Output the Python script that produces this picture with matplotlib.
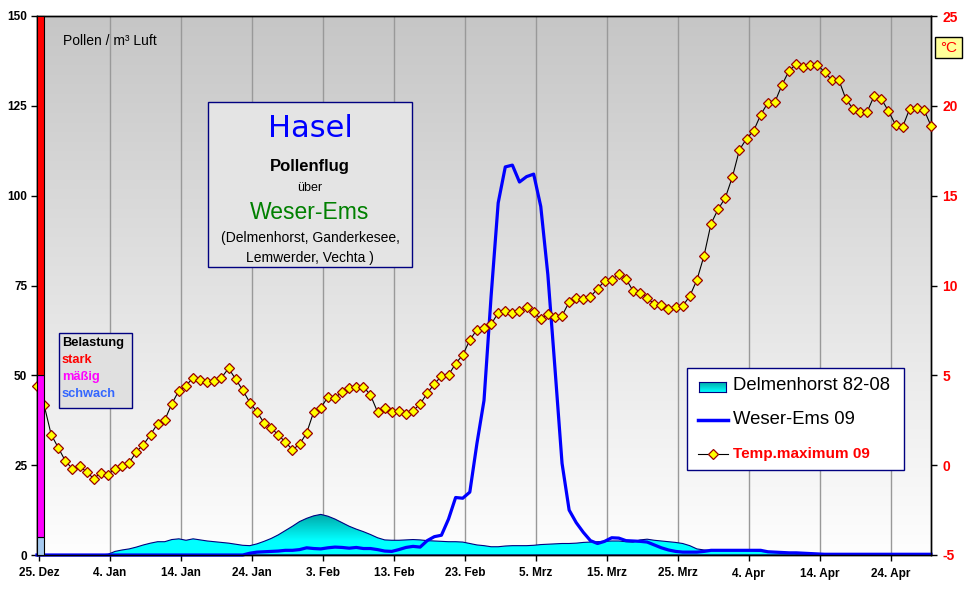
import numpy as np
import matplotlib
matplotlib.use("Agg")
import matplotlib.pyplot as plt
from matplotlib.colors import LinearSegmentedColormap
from matplotlib.patches import Rectangle
from matplotlib.lines import Line2D

plt.rcParams["font.family"] = ["Liberation Sans", "DejaVu Sans"]

# --- data -------------------------------------------------------------
tick_labels = ["25. Dez", "4. Jan", "14. Jan", "24. Jan", "3. Feb", "13. Feb",
               "23. Feb", "5. Mrz", "15. Mrz", "25. Mrz", "4. Apr", "14. Apr",
               "24. Apr"]

# Temp.maximum 09 (degC), one value per day from 25. Dez
temp_max = [
    4.4, 3.35, 1.7, 0.97, 0.23, -0.2, -0.05, -0.38, -0.75, -0.42,
    -0.53, -0.2, -0.03, 0.14, 0.75, 1.14, 1.7, 2.31, 2.5, 3.42,
    4.14, 4.42, 4.87, 4.74, 4.64, 4.68, 4.87, 5.39, 4.79, 4.17,
    3.48, 2.97, 2.35, 2.08, 1.68, 1.29, 0.86, 1.16, 1.79, 2.97,
    3.2, 3.79, 3.74, 4.09, 4.28, 4.37, 4.37, 3.9, 2.96, 3.2,
    2.96, 3.03, 2.85, 3.03, 3.4, 4.01, 4.52, 4.96, 5.02, 5.65,
    6.13, 6.96, 7.54, 7.63, 7.84, 8.48, 8.6, 8.47, 8.56, 8.82,
    8.52, 8.13, 8.39, 8.26, 8.32, 9.08, 9.32, 9.25, 9.37, 9.82,
    10.25, 10.3, 10.64, 10.37, 9.71, 9.6, 9.3, 8.97, 8.91, 8.71,
    8.82, 8.86, 9.41, 10.3, 11.64, 13.44, 14.25, 14.87, 16.03, 17.55,
    18.17, 18.61, 19.5, 20.17, 20.21, 21.17, 21.95, 22.32, 22.17, 22.25,
    22.28, 21.88, 21.45, 21.45, 20.38, 19.84, 19.65, 19.67, 20.56, 20.39,
    19.71, 18.95, 18.83, 19.84, 19.88, 19.79, 18.89,
]

# Weser-Ems 09 (Pollen / m3 Luft)
weser_ems = [0.0] * 30 + [
    0.5, 0.8, 0.9, 1.0, 1.1, 1.3, 1.3, 1.5, 2.0, 1.8,
    1.7, 2.0, 2.2, 2.1, 1.9, 2.1, 1.8, 1.8, 1.5, 1.1,
    1.0, 1.5, 2.1, 2.4, 2.2, 4.0, 5.1, 5.5, 10.0, 16.0,
    15.8, 17.5, 31.0, 43.0, 72.0, 98.0, 108.0, 108.5, 103.8, 105.3,
    106.0, 97.0, 78.0, 52.0, 25.5, 12.5, 9.0, 6.3, 4.0, 3.2,
    3.8, 4.8, 4.7, 4.0, 3.9, 3.8, 3.6, 2.8, 2.0, 1.4,
    1.0, 0.8, 0.8, 0.8, 1.0, 1.3, 1.3, 1.3, 1.3, 1.3,
    1.3, 1.3, 1.3, 0.9, 0.8, 0.7, 0.6, 0.6, 0.5, 0.4,
    0.3] + [0.2] * 16

# Delmenhorst 82-08 mean
delmenhorst = [0.0] * 10 + [
    0.2, 1.0, 1.4, 1.7, 2.2, 2.8, 3.3, 3.7, 3.7, 4.3,
    4.5, 4.1, 4.5, 4.2, 3.9, 3.7, 3.5, 3.3, 3.0, 2.7,
    2.6, 3.1, 3.8, 4.6, 5.6, 6.8, 8.0, 9.3, 10.2, 10.9,
    11.3, 10.8, 10.0, 9.0, 8.0, 7.2, 6.5, 5.7, 4.8, 4.2,
    4.1, 4.1, 4.2, 4.3, 4.2, 4.0, 3.9, 3.8, 3.7, 3.7,
    3.6, 3.2, 2.8, 2.6, 2.3, 2.3, 2.5, 2.6, 2.6, 2.6,
    2.7, 2.9, 3.0, 3.1, 3.2, 3.2, 3.3, 3.5, 3.6, 3.7,
    3.8, 3.9, 3.9, 3.7, 3.6, 4.2, 4.4, 4.1, 3.9, 3.7,
    3.5, 3.2, 2.6, 1.7, 1.4, 1.3, 1.3, 1.3, 1.3, 1.3,
    1.3, 1.2, 1.0, 0.9, 0.8, 0.7, 0.6, 0.4, 0.4, 0.4,
    0.4] + [0.2] * 16

# Belastung scale (upper limits) and colours
belastung_limits = [5, 50, 150]
belastung_colors = ["#A6CAF0", "#FF00FF", "#FF0000"]

# --- figure -------------------------------------------------------------
W, H = 968, 602
days = np.arange(len(temp_max))


def fx(x):
    return x / W


def fy(y):
    return 1 - y / H


fig = plt.figure(figsize=(W / 100, H / 100), dpi=100)
ax = fig.add_axes([fx(37), fy(555), (931 - 37) / W, (555 - 16) / H])

# grey -> white background gradient
bg = LinearSegmentedColormap.from_list("bg", ["#FEFEFE", "#C6C6C6"])
ax.imshow(np.linspace(0, 1, 256).reshape(-1, 1), extent=[0, 126, 0, 150],
          origin="lower", aspect="auto", cmap=bg, zorder=0)
ax.set_xlim(0, 126)
ax.set_ylim(0, 150)

tick_pos = np.arange(len(tick_labels)) * 10 + 0.3
for t in tick_pos:
    ax.axvline(t, color="#999999", lw=1, zorder=1)

# Delmenhorst area with teal gradient
fill = ax.fill_between(days, delmenhorst, 0, facecolor="none",
                       edgecolor="#000080", lw=0.8, zorder=3)
teal = LinearSegmentedColormap.from_list("teal", ["#00FFFF", "#00A4A4"])
grad = ax.imshow(np.linspace(0, 12, 200).reshape(-1, 1),
                 extent=[0, 126, 0, 12], origin="lower", aspect="auto",
                 cmap=teal, vmin=4, vmax=11.5, zorder=2)
grad.set_clip_path(fill.get_paths()[0], transform=ax.transData)
ax.set_xlim(0, 126)
ax.set_ylim(0, 150)

ax.plot(days, weser_ems, color="#0000FF", lw=2.3, zorder=4, clip_on=False)

ax.set_yticks(range(0, 151, 25))
ax.set_yticklabels([str(v) for v in range(0, 151, 25)], fontweight="bold",
                   fontsize=8.5)
ax.set_xticks(tick_pos)
ax.set_xticklabels(tick_labels, fontweight="bold", fontsize=8.5)
ax.tick_params(axis="both", direction="out", length=4, width=1, pad=3)
ax.tick_params(axis="x", pad=5)

ax2 = ax.twinx()
ax2.plot(days, temp_max, color="black", lw=0.8, marker="D", ms=5,
         mfc="#FFFF00", mec="#990000", mew=0.9, clip_on=False, zorder=4)

# Belastung bar at left edge (pollen scale)
bottoms = [0] + belastung_limits[:-1]
heights = [t - b for t, b in zip(belastung_limits, bottoms)]
ax2.bar([0] * 3, heights, width=1, bottom=bottoms, align="edge",
        color=belastung_colors, edgecolor="black", lw=0.8,
        transform=ax.transData, zorder=5, clip_on=False)

ax2.set_ylim(-5, 25)
ax2.set_xlim(0, 126)
ax2.set_yticks(range(-5, 26, 5))
ax2.set_yticklabels([str(v) for v in range(-5, 26, 5)], fontweight="bold",
                    fontsize=10, color="#FF0000")
ax2.tick_params(axis="y", direction="out", length=4, width=1, pad=4)

for a in (ax, ax2):
    for s in a.spines.values():
        s.set_color("black")
        s.set_linewidth(1)

# --- texts and boxes ---------------------------------------------------
fig.text(fx(63), fy(41), "Pollen / m³ Luft", fontsize=10, va="center")


def box(x0, y0, x1, y1, fc, ec="#000080"):
    fig.patches.append(Rectangle((fx(x0), fy(y1)), (x1 - x0) / W,
                                 (y1 - y0) / H, transform=fig.transFigure,
                                 facecolor=fc, edgecolor=ec, lw=1, zorder=2))


# title box
box(208, 102, 412, 267, "#E4E4E4")
cx = 310
fig.text(fx(cx), fy(128), "Hasel", fontsize=22, color="#0000FF",
         family="DejaVu Sans", ha="center", va="center")
fig.text(fx(cx), fy(167), "Pollenflug", fontsize=12, fontweight="bold",
         ha="center", va="center")
fig.text(fx(cx), fy(188), "über", fontsize=9, ha="center", va="center")
fig.text(fx(cx), fy(213), "Weser-Ems", fontsize=16.5, color="#008000",
         ha="center", va="center")
fig.text(fx(cx), fy(238), "(Delmenhorst, Ganderkesee,", fontsize=10,
         ha="center", va="center")
fig.text(fx(cx), fy(258), "Lemwerder, Vechta )", fontsize=10,
         ha="center", va="center")

# Belastung box
box(59, 333, 132, 408, "#E0E0E0")
for label, col, y in [("Belastung", "black", 343), ("stark", "#FF0000", 360),
                      ("mäßig", "#FF00FF", 377), ("schwach", "#3366FF", 394)]:
    fig.text(fx(62), fy(y), label, fontsize=9.3, fontweight="bold",
             color=col, va="center")

# legend
box(687, 368, 904, 470, "white")
sw = fig.add_axes([fx(699), fy(392), 27 / W, 10 / H])
sw.set_zorder(5)
sw.imshow(np.linspace(0, 1, 50).reshape(-1, 1), origin="lower",
          aspect="auto", cmap=LinearSegmentedColormap.from_list(
              "sw", ["#00FFFF", "#00A8A8"]))
sw.set_xticks([])
sw.set_yticks([])
for s in sw.spines.values():
    s.set_color("#000080")
fig.lines.append(Line2D([fx(698), fx(728)], [fy(420), fy(420)],
                        transform=fig.transFigure, color="#0000FF", lw=2.5,
                        zorder=3))
fig.lines.append(Line2D([fx(698), fx(728)], [fy(454), fy(454)],
                        transform=fig.transFigure, color="black", lw=0.8,
                        zorder=3))
fig.lines.append(Line2D([fx(713)], [fy(454)], transform=fig.transFigure,
                        marker="D", ms=5, mfc="#FFFF00", mec="#990000",
                        mew=0.9, zorder=4))
fig.text(fx(733), fy(386), "Delmenhorst 82-08", fontsize=13.3, va="center")
fig.text(fx(733), fy(420), "Weser-Ems 09", fontsize=13.3, va="center")
fig.text(fx(733), fy(454), "Temp.maximum 09", fontsize=11,
         fontweight="bold", color="#FF0000", va="center")

# degC box
box(935, 37, 962, 58, "#FFFF99", ec="black")
fig.text(fx(948.5), fy(47.5), "°C", fontsize=11, color="#FF0000",
         ha="center", va="center")

fig.savefig("out.png", dpi=100)
